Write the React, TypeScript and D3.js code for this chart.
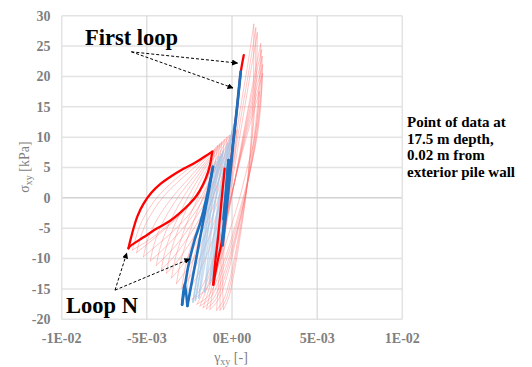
import React, { useEffect, useRef } from 'react';
import * as d3 from 'd3';

// strain in units of 1E-03, stress in kPa
const xTickValues = [-10, -5, 0, 5, 10];
const xTickLabels = ['-1E-02', '-5E-03', '0E+00', '5E-03', '1E-02'];
const yTicks = [-20, -15, -10, -5, 0, 5, 10, 15, 20, 25, 30];

// intermediate loops (faint red), each: [ascending branch, descending branch]
const redFaintLoops = [
  [[[-0.5, -18.4], [-0.2, -16.5], [0.15, -12], [0.5, -6], [0.8, 0], [1.05, 7], [1.2, 14], [1.27, 21], [1.28, 28.6]],
   [[1.28, 28.6], [0.9, 21.5], [0.45, 14], [0.05, 6], [-0.25, -1], [-0.45, -8], [-0.55, -14], [-0.5, -18.4]]],
  [[[-0.7, -18.5], [-0.35, -16.7], [0.05, -12.3], [0.45, -6], [0.82, 0.3], [1.08, 7.3], [1.27, 14], [1.37, 20.7], [1.4, 28.0]],
   [[1.4, 28.0], [0.98, 20.7], [0.52, 13.2], [0.1, 5.5], [-0.25, -1.5], [-0.52, -8.5], [-0.68, -14.2], [-0.7, -18.5]]],
  [[[-0.9, -18.5], [-0.5, -16.8], [-0.05, -12.5], [0.4, -6], [0.8, 0.5], [1.1, 7.5], [1.32, 14], [1.44, 20.5], [1.49, 27.2]],
   [[1.49, 27.2], [1.05, 20], [0.6, 12.5], [0.15, 5], [-0.25, -2], [-0.6, -9], [-0.8, -14.5], [-0.9, -18.5]]],
  [[[-1.3, -18.4], [-0.8, -16.8], [-0.25, -12.5], [0.3, -6], [0.8, 0.5], [1.15, 7], [1.42, 13], [1.6, 19], [1.69, 25.4]],
   [[1.69, 25.4], [1.2, 18.5], [0.7, 11], [0.2, 3.5], [-0.3, -4], [-0.75, -10.5], [-1.1, -15], [-1.3, -18.4]]],
  [[[-1.5, -18.3], [-0.95, -16.7], [-0.35, -12.4], [0.25, -6.1], [0.78, 0.3], [1.18, 6.8], [1.46, 12.5], [1.65, 18.2], [1.74, 24.4]],
   [[1.74, 24.4], [1.22, 17.8], [0.7, 10.5], [0.18, 3], [-0.35, -4.2], [-0.82, -10.5], [-1.22, -15], [-1.5, -18.3]]],
  [[[-1.7, -18.1], [-1.1, -16.6], [-0.45, -12.3], [0.2, -6.2], [0.75, 0], [1.2, 6.5], [1.5, 12], [1.7, 17.5], [1.78, 23.3]],
   [[1.78, 23.3], [1.25, 17], [0.7, 10], [0.15, 2.5], [-0.4, -4.5], [-0.9, -10.5], [-1.35, -15], [-1.7, -18.1]]],
  [[[-1.88, -17.8], [-1.25, -16.4], [-0.58, -12.2], [0.1, -6.3], [0.68, -0.2], [1.18, 6], [1.5, 11.3], [1.7, 16.5], [1.8, 21.9]],
   [[1.8, 21.9], [1.25, 16], [0.68, 9.3], [0.1, 2], [-0.48, -4.8], [-1.0, -10.5], [-1.48, -14.9], [-1.88, -17.8]]],
  [[[-2.05, -17.5], [-1.4, -16.2], [-0.7, -12.2], [0.0, -6.4], [0.6, -0.5], [1.15, 5.5], [1.5, 10.5], [1.7, 15.5], [1.8, 20.5]],
   [[1.8, 20.5], [1.25, 15], [0.65, 8.5], [0.05, 1.5], [-0.55, -5], [-1.1, -10.5], [-1.6, -14.8], [-2.05, -17.5]]],
  [[[-2.35, -16.7], [-1.6, -15.3], [-0.85, -11.5], [-0.2, -6], [0.4, -0.5], [0.9, 5], [1.3, 9.5], [1.5, 13.5], [1.6, 17.5]],
   [[1.6, 17.5], [1.1, 12.5], [0.55, 7], [0, 1], [-0.6, -5.3], [-1.2, -10.8], [-1.8, -14.8], [-2.35, -16.7]]],
  [[[-2.68, -15.7], [-2.45, -12.2], [-2.1, -8.4], [-1.7, -4.5], [-1.2, -0.6], [-0.7, 3.4], [-0.2, 7.3], [0.3, 11.2]],
   [[0.3, 11.2], [0.15, 7.0], [-0.2, 2.6], [-0.6, -2.0], [-1.1, -6.6], [-1.65, -10.6], [-2.2, -13.7], [-2.68, -15.7]]],
  [[[-2.95, -14.9], [-2.75, -11.5], [-2.4, -7.9], [-1.95, -4.2], [-1.45, -0.4], [-0.95, 3.5], [-0.4, 7.2], [0.15, 10.9]],
   [[0.15, 10.9], [0.0, 6.9], [-0.35, 2.7], [-0.8, -1.8], [-1.3, -6.1], [-1.9, -10.0], [-2.45, -12.9], [-2.95, -14.9]]],
  [[[-3.26, -14.1], [-3.05, -10.9], [-2.7, -7.4], [-2.25, -3.8], [-1.75, -0.2], [-1.2, 3.5], [-0.6, 7.1], [0.0, 10.6]],
   [[0.0, 10.6], [-0.15, 6.8], [-0.5, 2.8], [-0.95, -1.5], [-1.5, -5.6], [-2.1, -9.3], [-2.7, -12.0], [-3.26, -14.1]]],
  [[[-3.55, -13.2], [-3.35, -10.2], [-3.0, -6.9], [-2.55, -3.4], [-2.0, 0.0], [-1.45, 3.5], [-0.8, 7.0], [-0.15, 10.3]],
   [[-0.15, 10.3], [-0.3, 6.6], [-0.65, 2.8], [-1.1, -1.4], [-1.7, -5.2], [-2.35, -8.7], [-2.95, -11.2], [-3.55, -13.2]]],
  [[[-3.85, -12.4], [-3.65, -9.5], [-3.3, -6.3], [-2.85, -3.0], [-2.3, 0.3], [-1.7, 3.6], [-1.0, 6.9], [-0.3, 10.0]],
   [[-0.3, 10.0], [-0.45, 6.5], [-0.8, 2.8], [-1.3, -1.2], [-1.9, -4.8], [-2.6, -8.0], [-3.2, -10.4], [-3.85, -12.4]]],
  [[[-4.15, -11.8], [-3.95, -9.0], [-3.6, -6.0], [-3.1, -2.8], [-2.55, 0.35], [-1.9, 3.45], [-1.2, 6.6], [-0.45, 9.6]],
   [[-0.45, 9.6], [-0.6, 6.25], [-0.95, 2.7], [-1.45, -1.0], [-2.1, -4.4], [-2.8, -7.4], [-3.45, -9.8], [-4.15, -11.8]]],
  [[[-4.44, -11.1], [-4.25, -8.5], [-3.9, -5.6], [-3.4, -2.6], [-2.8, 0.4], [-2.1, 3.3], [-1.35, 6.3], [-0.6, 9.2]],
   [[-0.6, 9.2], [-0.75, 6.0], [-1.1, 2.6], [-1.6, -0.8], [-2.3, -4.0], [-3.0, -6.8], [-3.7, -9.1], [-4.44, -11.1]]],
  [[[-4.8, -10.4], [-4.6, -7.9], [-4.25, -5.1], [-3.7, -2.2], [-3.05, 0.6], [-2.3, 3.3], [-1.5, 6.1], [-0.72, 8.9]],
   [[-0.72, 8.9], [-0.88, 5.9], [-1.22, 2.7], [-1.75, -0.5], [-2.45, -3.5], [-3.25, -6.2], [-4.05, -8.5], [-4.8, -10.4]]],
  [[[-5.2, -9.7], [-5.0, -7.3], [-4.6, -4.6], [-4.0, -1.8], [-3.3, 0.8], [-2.5, 3.3], [-1.7, 5.9], [-0.85, 8.6]],
   [[-0.85, 8.6], [-1.0, 5.8], [-1.35, 2.8], [-1.9, -0.2], [-2.6, -3.0], [-3.5, -5.6], [-4.4, -7.8], [-5.2, -9.7]]],
  [[[-5.6, -9.0], [-5.4, -6.8], [-5.1, -4.5], [-4.6, -2.0], [-4.0, 0.3], [-3.3, 2.3], [-2.5, 4.3], [-1.7, 6.3], [-1.0, 8.0]],
   [[-1.0, 8.0], [-1.15, 5.5], [-1.5, 2.8], [-2.1, 0.2], [-2.9, -2.5], [-3.8, -4.8], [-4.7, -7.0], [-5.6, -9.0]]],
  [[[-5.85, -8.6], [-5.65, -6.6], [-5.38, -4.4], [-4.9, -1.9], [-4.3, 0.4], [-3.55, 2.5], [-2.7, 4.5], [-1.85, 6.3], [-1.08, 7.8]],
   [[-1.08, 7.8], [-1.2, 5.6], [-1.5, 3.2], [-2.1, 0.5], [-2.95, -2.4], [-3.8, -4.6], [-4.8, -6.8], [-5.85, -8.6]]],
];

// intermediate loops (faint blue)
const blueFaintLoops = [
  [[[-1.0, -12.5], [-0.7, -7], [-0.4, -1], [-0.1, 5], [0.1, 9.5], [0.25, 13.5]],
   [[0.25, 13.5], [-0.15, 8], [-0.5, 2], [-0.75, -3.5], [-0.95, -8.5], [-1.0, -12.5]]],
  [[[-1.15, -13.4], [-0.85, -7.8], [-0.52, -1.8], [-0.22, 4.2], [-0.02, 8.5], [0.12, 12.2]],
   [[0.12, 12.2], [-0.28, 7], [-0.62, 1.2], [-0.88, -4.2], [-1.08, -9.2], [-1.15, -13.4]]],
  [[[-1.3, -14.2], [-1.0, -8.5], [-0.65, -2.5], [-0.35, 3.5], [-0.15, 7.5], [0.0, 11.0]],
   [[0.0, 11.0], [-0.4, 6], [-0.75, 0.5], [-1.0, -5], [-1.2, -10], [-1.3, -14.2]]],
  [[[-1.6, -15.5], [-1.3, -10], [-0.95, -4], [-0.6, 2], [-0.4, 6], [-0.25, 9.0]],
   [[-0.25, 9.0], [-0.65, 4.5], [-1.0, -1], [-1.25, -6.5], [-1.45, -11], [-1.6, -15.5]]],
  [[[-1.95, -16.5], [-1.6, -11], [-1.25, -5], [-0.9, 1], [-0.65, 5], [-0.5, 7.8]],
   [[-0.5, 7.8], [-0.9, 3.5], [-1.25, -2], [-1.5, -7.5], [-1.75, -12], [-1.95, -16.5]]],
  [[[-2.15, -16.9], [-1.8, -11.3], [-1.42, -5.3], [-1.05, 0.7], [-0.78, 4.7], [-0.62, 7.2]],
   [[-0.62, 7.2], [-1.02, 3], [-1.38, -2.5], [-1.65, -8], [-1.9, -12.5], [-2.15, -16.9]]],
  [[[-2.3, -17.2], [-1.95, -11.5], [-1.55, -5.5], [-1.2, 0.5], [-0.9, 4.5], [-0.75, 6.8]],
   [[-0.75, 6.8], [-1.15, 2.5], [-1.5, -3], [-1.8, -8.5], [-2.05, -13], [-2.3, -17.2]]],
  [[[-2.6, -17.6], [-2.25, -12], [-1.85, -6], [-1.45, 0], [-1.15, 3.8], [-0.95, 6.0]],
   [[-0.95, 6.0], [-1.35, 1.5], [-1.7, -4], [-2.05, -9.5], [-2.35, -14], [-2.6, -17.6]]],
];

// highlighted loops
const redFirstLoop = [
  [[-0.43, 4.8], [-0.6, 0], [-0.8, -6], [-1.0, -11], [-1.1, -14.3]],
  [[-1.1, -14.3], [-0.85, -10.5], [-0.62, -7.5], [-0.23, 1.5], [0.05, 8.7], [0.3, 15], [0.52, 20.8], [0.69, 23.5]],
];
const redLoopN = [
  [[-6.08, -8.3], [-5.95, -6.8], [-5.78, -5.0], [-5.55, -3.0], [-5.2, -1.0], [-4.75, 0.8], [-4.2, 2.3], [-3.55, 3.6], [-2.85, 4.8], [-2.1, 5.9], [-1.6, 6.8], [-1.16, 7.6]],
  [[-1.16, 7.6], [-1.25, 6.0], [-1.4, 4.3], [-1.7, 2.2], [-2.09, 0.3], [-2.5, -1.0], [-3.07, -2.5], [-3.7, -3.9], [-4.44, -5.1], [-5.2, -6.5], [-6.0, -8.0], [-6.08, -8.3]],
];
const blueFirstLoop = [
  [[0.51, 20.8], [0.3, 15], [0.06, 8.7], [-0.2, 1.5], [-0.56, -7.8]],
  [[-0.56, -7.8], [-0.42, -2], [-0.3, 2.5], [-0.2, 6.2]],
  [[-0.2, 6.2], [-0.32, 2], [-0.5, -3.5]],
];
const blueLoopN = [
  [[-1.12, 5.1], [-1.5, 0], [-1.85, -4], [-2.2, -7], [-2.55, -11], [-2.93, -17.6]],
  [[-2.93, -17.6], [-2.78, -14.1], [-2.62, -17.8]],
  [[-2.62, -17.8], [-2.3, -13], [-2.0, -8.5], [-1.7, -4], [-1.4, 0.5], [-1.12, 5.1]],
];

// annotation arrows: [from, to]
const firstLoopArrows = [
  [[-5.91, 24.05], [0.32, 22.2]],
  [[-5.91, 24.05], [0.06, 18.1]],
];
const loopNArrows = [
  [[-6.87, -15.2], [-6.18, -9.1]],
  [[-6.87, -15.2], [-2.48, -10.05]],
];

const noteLines = ['Point of data at', '17.5 m depth,', '0.02 m from', 'exterior pile wall'];

const App = () => {
  const ref = useRef<SVGSVGElement>(null);

  useEffect(() => {
    const svg = d3.select(ref.current);
    svg.selectAll('*').remove();

    const width = 532;
    const height = 367;
    const font = '"Liberation Serif", "Times New Roman", serif';

    const x = d3.scaleLinear().domain([-10, 10]).range([61.7, 402.3]);
    const y = d3.scaleLinear().domain([-20, 30]).range([319.3, 15.7]);

    svg.append('rect').attr('width', width).attr('height', height).attr('fill', '#fff');

    // gridlines
    svg.append('g')
      .selectAll('line')
      .data(yTicks)
      .enter()
      .append('line')
      .attr('x1', x(-10)).attr('x2', x(10))
      .attr('y1', d => y(d)).attr('y2', d => y(d))
      .attr('stroke', d => (d === 0 ? '#d2d2d2' : '#e3e3e3'))
      .attr('stroke-width', 1.5);

    svg.append('g')
      .selectAll('line')
      .data(xTickValues)
      .enter()
      .append('line')
      .attr('x1', d => x(d)).attr('x2', d => x(d))
      .attr('y1', y(30)).attr('y2', y(-20))
      .attr('stroke', d => (d === -10 || d === 10 ? '#e3e3e3' : '#d0d0d0'))
      .attr('stroke-width', d => (d === -10 || d === 10 ? 1.5 : 1));

    // tick labels
    svg.append('g')
      .selectAll('text')
      .data(yTicks)
      .enter()
      .append('text')
      .attr('x', 50.5)
      .attr('y', d => y(d))
      .attr('dy', '0.35em')
      .attr('text-anchor', 'end')
      .style('font-family', font)
      .style('font-weight', 'bold')
      .style('font-size', '14px')
      .attr('fill', '#7f7f7f')
      .text(d => d);

    svg.append('g')
      .selectAll('text')
      .data(xTickValues)
      .enter()
      .append('text')
      .attr('x', d => x(d))
      .attr('y', 342.5)
      .attr('text-anchor', 'middle')
      .style('font-family', font)
      .style('font-weight', 'bold')
      .style('font-size', '14px')
      .attr('fill', '#7f7f7f')
      .text((d, i) => xTickLabels[i]);

    // axis titles
    const xt = svg.append('text')
      .attr('x', 231)
      .attr('y', 362)
      .attr('text-anchor', 'middle')
      .style('font-family', font)
      .style('font-size', '14px')
      .attr('fill', '#7f7f7f');
    xt.append('tspan').text('γ');
    xt.append('tspan').attr('dy', 3).style('font-size', '10px').text('xy');
    xt.append('tspan').attr('dy', -3).text(' [-]');

    const yt = svg.append('text')
      .attr('transform', 'translate(29,167) rotate(-90)')
      .attr('text-anchor', 'middle')
      .style('font-family', font)
      .style('font-size', '14px')
      .attr('fill', '#7f7f7f');
    yt.append('tspan').text('σ');
    yt.append('tspan').attr('dy', 3).style('font-size', '10px').text('xy');
    yt.append('tspan').attr('dy', -3).text(' [kPa]');

    const line = d3.line<number[]>()
      .x(d => x(d[0]))
      .y(d => y(d[1]))
      .curve(d3.curveCatmullRom.alpha(0.5));

    const drawBranches = (branches, color, w, opacity) => {
      svg.append('g')
        .selectAll('path')
        .data(branches)
        .enter()
        .append('path')
        .attr('d', d => line(d))
        .attr('fill', 'none')
        .attr('stroke', color)
        .attr('stroke-width', w)
        .attr('stroke-opacity', opacity)
        .attr('stroke-linejoin', 'round')
        .attr('stroke-linecap', 'round');
    };

    // faint intermediate loops
    redFaintLoops.forEach(loop => drawBranches(loop, '#ff6b6b', 0.9, 0.42));
    blueFaintLoops.forEach(loop => drawBranches(loop, '#9ec5e8', 1.5, 0.55));

    // highlighted loops
    drawBranches(redLoopN, '#ff0000', 2.3, 1);
    drawBranches(redFirstLoop, '#ff0000', 2.3, 1);
    drawBranches(blueLoopN, '#1f6fbf', 2.6, 1);
    drawBranches(blueFirstLoop, '#1f6fbf', 2.8, 1);

    // arrows
    svg.append('defs')
      .append('marker')
      .attr('id', 'arrowhead')
      .attr('viewBox', '0 0 10 10')
      .attr('refX', 9)
      .attr('refY', 5)
      .attr('markerWidth', 6)
      .attr('markerHeight', 6)
      .attr('markerUnits', 'userSpaceOnUse')
      .attr('orient', 'auto')
      .append('path')
      .attr('d', 'M0,0 L10,5 L0,10 Z')
      .attr('fill', '#000');

    svg.append('g')
      .selectAll('line')
      .data([...firstLoopArrows, ...loopNArrows])
      .enter()
      .append('line')
      .attr('x1', d => x(d[0][0]))
      .attr('y1', d => y(d[0][1]))
      .attr('x2', d => x(d[1][0]))
      .attr('y2', d => y(d[1][1]))
      .attr('stroke', '#000')
      .attr('stroke-width', 1)
      .attr('stroke-dasharray', '3,2')
      .attr('marker-end', 'url(#arrowhead)');

    // labels
    svg.append('text')
      .attr('x', 85)
      .attr('y', 45)
      .style('font-family', font)
      .style('font-weight', 'bold')
      .style('font-size', '22.5px')
      .attr('fill', '#000')
      .text('First loop');

    svg.append('text')
      .attr('x', 66)
      .attr('y', 312.5)
      .style('font-family', font)
      .style('font-weight', 'bold')
      .style('font-size', '22.5px')
      .attr('fill', '#000')
      .text('Loop N');

    svg.append('g')
      .selectAll('text')
      .data(noteLines)
      .enter()
      .append('text')
      .attr('x', 407)
      .attr('y', (d, i) => 127 + i * 16.7)
      .style('font-family', font)
      .style('font-weight', 'bold')
      .style('font-size', '15px')
      .attr('fill', '#000')
      .text(d => d);
  }, []);

  return (
    <svg
      ref={ref}
      width={532}
      height={367}
      style={{ position: 'absolute', left: 0, top: 0, display: 'block' }}
    />
  );
};

export default App;
